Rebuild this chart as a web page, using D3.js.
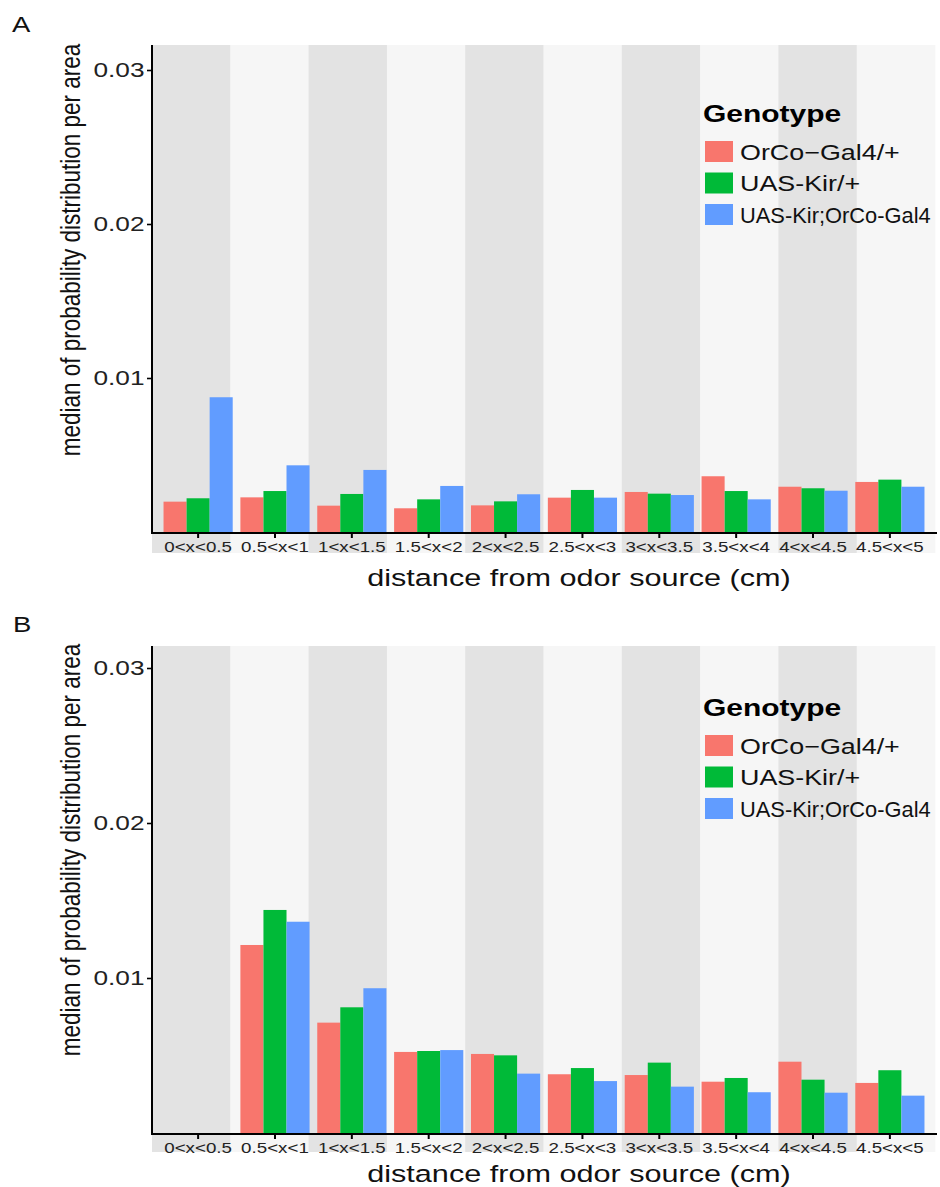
<!DOCTYPE html>
<html>
<head>
<meta charset="utf-8">
<script src="https://cdn.jsdelivr.net/npm/d3@7"></script>
<style>
  body { margin: 0; background: #fff; }
  svg { display: block; font-family: "Liberation Sans", Arial, Helvetica, sans-serif; }
</style>
</head>
<body>
<div id="chart"></div>
<script>
// distance bins (x categories)
var bins = ["0<x<0.5", "0.5<x<1", "1<x<1.5", "1.5<x<2", "2<x<2.5",
            "2.5<x<3", "3<x<3.5", "3.5<x<4", "4<x<4.5", "4.5<x<5"];
var genotypes = ["OrCo\u2212Gal4/+", "UAS-Kir/+", "UAS-Kir;OrCo-Gal4"];
var colors = ["#F8766D", "#00BA38", "#619CFF"];
var yTicks = [0.01, 0.02, 0.03];

// panel A values
var orcoA    = [0.00197, 0.00225, 0.00171, 0.00154, 0.00173, 0.00223, 0.00260, 0.00362, 0.00294, 0.00325];
var kirA     = [0.00219, 0.00266, 0.00247, 0.00212, 0.00199, 0.00273, 0.00249, 0.00266, 0.00284, 0.00340];
var kirOrcoA = [0.00875, 0.00433, 0.00403, 0.00299, 0.00245, 0.00223, 0.00240, 0.00212, 0.00268, 0.00294];

// panel B values (first bin empty)
var orcoB    = [null, 0.01213, 0.00712, 0.00523, 0.00510, 0.00379, 0.00374, 0.00331, 0.00460, 0.00323];
var kirB     = [null, 0.01439, 0.00811, 0.00529, 0.00501, 0.00419, 0.00454, 0.00355, 0.00344, 0.00405];
var kirOrcoB = [null, 0.01363, 0.00934, 0.00535, 0.00383, 0.00335, 0.00299, 0.00263, 0.00260, 0.00241];

// the source figure is stretched sideways, so draw in a narrower viewBox
var SX = 1.25;
var W = 940, H = 1187;
function px(x) { return x / SX; }

var svg = d3.select("#chart").append("svg")
    .attr("width", W)
    .attr("height", H)
    .attr("viewBox", "0 0 " + (W / SX) + " " + H)
    .attr("preserveAspectRatio", "none");

function drawPanel(cfg) {
    var g = svg.append("g");
    var left = px(152), right = px(936);

    var y = d3.scaleLinear().domain([0, 0.03]).range([cfg.zero, cfg.y03]);
    var x = d3.scaleBand().domain(bins).range([left, right])
        .paddingInner(0.1).paddingOuter(0.15);
    var xs = d3.scaleBand().domain(genotypes).range([0, x.bandwidth()]);
    var bands = d3.scaleBand().domain(bins).range([left, px(935)]);

    // alternating background stripes
    g.append("g").selectAll("rect")
        .data(bins)
        .join("rect")
        .attr("x", function (d) { return bands(d); })
        .attr("y", cfg.top)
        .attr("width", bands.bandwidth() + 0.3)
        .attr("height", cfg.stripBottom - cfg.top)
        .attr("fill", function (d, i) { return i % 2 == 0 ? "#e3e3e3" : "#f6f6f6"; });

    var rows = [];
    bins.forEach(function (b, i) {
        cfg.series.forEach(function (s, k) {
            if (s[i] != null) rows.push({ bin: b, geno: genotypes[k], value: s[i], color: colors[k] });
        });
    });

    g.append("g").selectAll("rect")
        .data(rows)
        .join("rect")
        .attr("x", function (d) { return x(d.bin) + xs(d.geno); })
        .attr("y", function (d) { return y(d.value); })
        .attr("width", xs.bandwidth())
        .attr("height", function (d) { return y(0) - y(d.value); })
        .attr("fill", function (d) { return d.color; });

    // x axis
    var xAxis = g.append("g")
        .attr("transform", "translate(0," + (y(0) + 1) + ")")
        .call(d3.axisBottom(x).tickSize(5).tickPadding(3).tickSizeOuter(0));
    xAxis.select(".domain").remove();
    xAxis.selectAll(".tick line").attr("stroke", "#000").attr("stroke-width", 1.6);
    xAxis.selectAll(".tick text")
        .attr("fill", "#222")
        .style("font-size", "15px")
        .style("font-family", "'Liberation Sans', Arial, sans-serif");
    g.append("line")
        .attr("x1", left).attr("x2", px(937))
        .attr("y1", y(0) + 1).attr("y2", y(0) + 1)
        .attr("stroke", "#000").attr("stroke-width", 2);

    // y axis
    var yAxis = g.append("g")
        .attr("transform", "translate(" + left + ",0)")
        .call(d3.axisLeft(y).tickValues(yTicks).tickFormat(d3.format(".2f"))
            .tickSize(4).tickPadding(2).tickSizeOuter(0));
    yAxis.select(".domain").remove();
    yAxis.selectAll(".tick line").attr("stroke", "#000").attr("stroke-width", 1.6);
    yAxis.selectAll(".tick text")
        .attr("fill", "#222")
        .style("font-size", "21px")
        .style("font-family", "'Liberation Sans', Arial, sans-serif");
    g.append("line")
        .attr("x1", left).attr("x2", left)
        .attr("y1", cfg.top).attr("y2", y(0) + 2)
        .attr("stroke", "#000").attr("stroke-width", 1.6);

    // titles
    g.append("text")
        .attr("x", px(579)).attr("y", cfg.xTitleY)
        .attr("text-anchor", "middle")
        .style("font-size", "24.5px")
        .attr("fill", "#111")
        .text("distance from odor source (cm)");
    g.append("text")
        .attr("transform", "translate(" + px(80) + "," + cfg.yTitleCy + ") rotate(-90)")
        .attr("text-anchor", "middle")
        .style("font-size", "22.5px")
        .attr("fill", "#111")
        .text("median of probability distribution per area");
    g.append("text")
        .attr("x", px(cfg.tagX)).attr("y", cfg.tagY)
        .style("font-size", "22px")
        .attr("fill", "#111")
        .text(cfg.tag);

    // legend
    var leg = g.append("g");
    leg.append("text")
        .attr("x", px(703)).attr("y", cfg.legendY)
        .style("font-size", "24px")
        .style("font-weight", "bold")
        .attr("fill", "#000")
        .text("Genotype");
    var items = leg.selectAll("g.item")
        .data(genotypes)
        .join("g")
        .attr("class", "item")
        .attr("transform", function (d, i) { return "translate(0," + (cfg.legendY + 19 + i * 31.5) + ")"; });
    items.append("rect")
        .attr("x", px(705)).attr("y", 0)
        .attr("width", px(28)).attr("height", 21)
        .attr("fill", function (d, i) { return colors[i]; });
    // the long label is squeezed sideways in the original: smaller font, stretched back up
    items.append("text")
        .attr("transform", function (d, i) {
            return "translate(" + px(740) + ",18.5)" + (i == 2 ? " scale(1,1.23)" : "");
        })
        .style("font-size", function (d, i) { return i == 2 ? "17.5px" : "21.5px"; })
        .attr("fill", "#111")
        .text(function (d) { return d; });
}

drawPanel({
    tag: "A", tagX: 12, tagY: 32,
    top: 45, zero: 532, y03: 70, stripBottom: 553,
    xTitleY: 586, yTitleCy: 250, legendY: 122,
    series: [orcoA, kirA, kirOrcoA]
});

drawPanel({
    tag: "B", tagX: 13, tagY: 632,
    top: 646, zero: 1133, y03: 668, stripBottom: 1152,
    xTitleY: 1182, yTitleCy: 850, legendY: 716,
    series: [orcoB, kirB, kirOrcoB]
});
</script>
</body>
</html>
